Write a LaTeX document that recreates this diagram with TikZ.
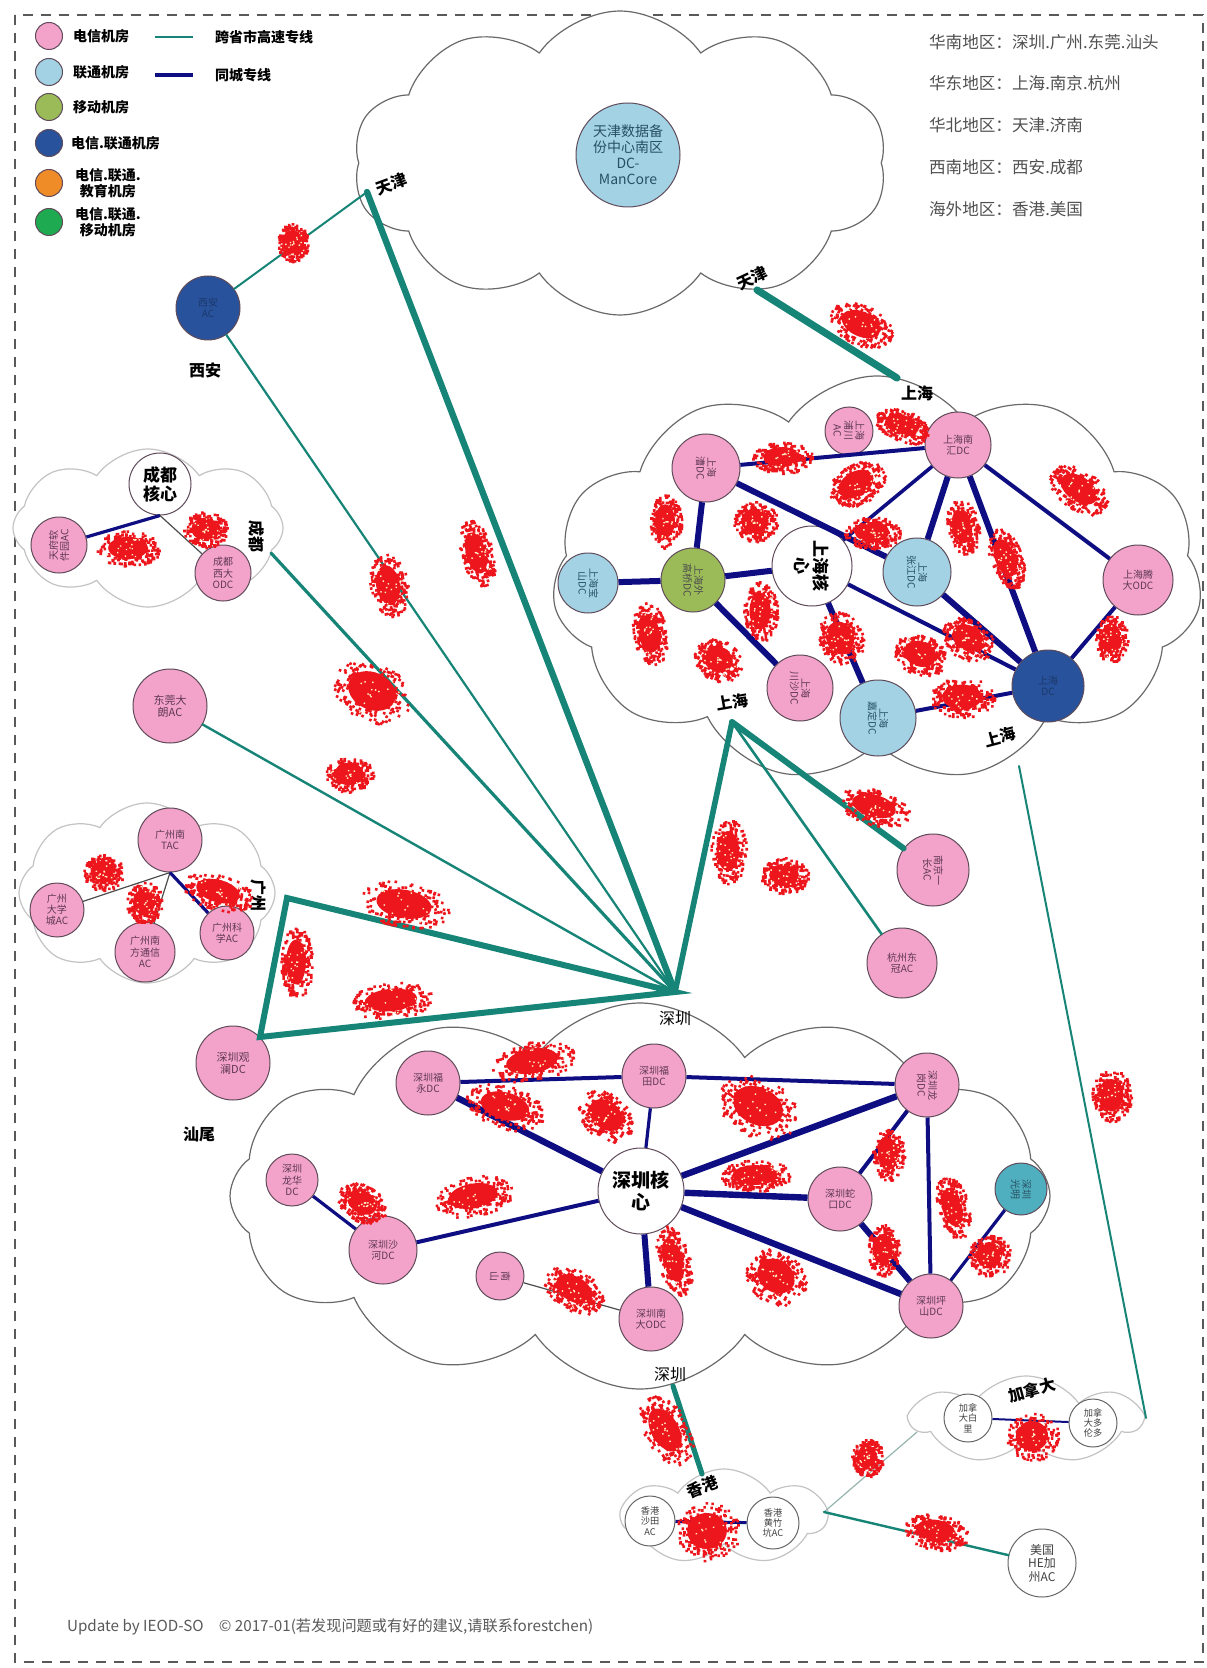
\documentclass[tikz,border=0pt]{standalone}
\usepackage{fontspec}
\setmainfont{Noto Sans CJK SC}
\usetikzlibrary{shapes.symbols}

\definecolor{pinkfill}{RGB}{243,163,201}
\definecolor{bluefill}{RGB}{162,210,228}
\definecolor{olivefill}{RGB}{155,187,89}
\definecolor{dualfill}{RGB}{40,82,155}
\definecolor{edufill}{RGB}{240,140,40}
\definecolor{greenfill}{RGB}{30,170,80}
\definecolor{tealnode}{RGB}{80,175,190}
\definecolor{roomedge}{RGB}{95,75,90}
\definecolor{roomtext}{RGB}{95,55,85}
\definecolor{bluetext}{RGB}{40,80,100}
\definecolor{tealline}{RGB}{22,132,118}
\definecolor{navyline}{RGB}{14,14,130}
\definecolor{clouddark}{RGB}{105,105,105}
\definecolor{cloudlight}{RGB}{195,195,195}
\definecolor{blobred}{RGB}{236,22,28}
\definecolor{blobspeck}{RGB}{255,240,200}
\definecolor{listgray}{RGB}{80,80,80}

% red scribble: x, y, half width, half height, angle
\newcommand\redblob[5]{%
  \begin{scope}[shift={(#1,#2)}, rotate=#5]
    \fill[blobred] (0,0) ellipse [x radius={0.62*#3}, y radius={0.62*#4}];
    \fill[blobred] \foreach \k [evaluate=\k as \blobr using {rnd^0.6},
        evaluate=\k as \blobt using {360*rnd}] in {1,...,230}
      { (\blobt:{#3*\blobr} and {#4*\blobr}) rectangle ++(2.6,2.6) };
    \fill[blobspeck] \foreach \k [evaluate=\k as \blobr using {0.8*rnd},
        evaluate=\k as \blobt using {360*rnd}] in {1,...,16}
      { (\blobt:{#3*\blobr} and {#4*\blobr}) rectangle ++(1.4,1.4) };
  \end{scope}}

\tikzset{
  room/.style={circle, draw=roomedge, line width=0.5pt, inner sep=0pt, align=center,
    font=\fontsize{5}{5.6}\selectfont, text=roomtext},
  telecom/.style={room, fill=pinkfill},
  unicom/.style={room, fill=bluefill, text=bluetext},
  mobile/.style={room, fill=olivefill, text=black!70},
  dual/.style={room, fill=dualfill, text=dualfill!70!black},
  tealroom/.style={room, fill=tealnode, text=bluetext},
  corenode/.style={room, fill=white, text=black, font=\bfseries\fontsize{8.5}{9.5}\selectfont},
  abroad/.style={room, fill=white, draw=black!60, text=black!75, font=\fontsize{4.6}{5.2}\selectfont},
  place/.style={font=\bfseries\fontsize{8}{8}\selectfont, text=black, inner sep=1pt},
  legendtext/.style={anchor=west, font=\bfseries\fontsize{7}{8}\selectfont, text=black, align=center},
  listtext/.style={anchor=west, font=\fontsize{8.3}{9}\selectfont, text=listgray},
  trunk/.style={draw=tealline, line width=#1, line cap=round},
  trunk/.default=1pt,
  cityline/.style={draw=navyline, line width=#1},
  cityline/.default=2pt,
  thinlink/.style={draw=black!70, line width=0.6pt},
  cloudbox/.style={cloud, cloud puffs=#1, cloud puff arc=110, cloud ignores aspect,
    draw=clouddark, line width=0.6pt, fill=white, inner sep=0pt},
  lightcloud/.style={cloudbox=#1, draw=cloudlight},
}

\begin{document}
\begin{tikzpicture}[x=0.5pt, y=-0.5pt]
\useasboundingbox (0,0) rectangle (1206,1668);
\fill[white] (0,0) rectangle (1206,1668);
\draw[black!65, line width=1pt, dash pattern=on 5pt off 4pt] (15,15) rectangle (1203,1662);

% ---------- clouds ----------
\node[cloudbox=10, minimum width=267pt, minimum height=152pt] (tjcloud) at (620,163) {};
\node[cloudbox=11, minimum width=325pt, minimum height=203pt] (shcloud) at (877,579) {};
\node[cloudbox=12, minimum width=410pt, minimum height=193pt] (szcloud) at (640,1196) {};
\node[lightcloud=8, minimum width=135pt, minimum height=79pt] (cdcloud) at (148,528) {};
\node[lightcloud=8, minimum width=128pt, minimum height=90pt] (gzcloud) at (147,893) {};
\node[lightcloud=7, minimum width=114pt, minimum height=44pt] (cacloud) at (1026,1420) {};
\node[lightcloud=7, minimum width=102pt, minimum height=48pt] (hkcloud) at (724,1517) {};

% ---------- legend ----------
\node[telecom, minimum size=13.5pt] (lg1) at (49,36) {};
\node[unicom, minimum size=13.5pt] (lg2) at (49,72) {};
\node[mobile, minimum size=13.5pt] (lg3) at (49,107) {};
\node[dual, minimum size=13.5pt] (lg4) at (49,143) {};
\node[room, fill=edufill, minimum size=13.5pt] (lg5) at (49,183) {};
\node[room, fill=greenfill, minimum size=13.5pt] (lg6) at (49,222) {};
\node[legendtext] (lt1) at (66,36) {电信机房};
\node[legendtext] (lt2) at (66,72) {联通机房};
\node[legendtext] (lt3) at (66,107) {移动机房};
\node[legendtext] (lt4) at (64,143) {电信.联通机房};
\node[legendtext] (lt5) at (68,183) {电信.联通.\\教育机房};
\node[legendtext] (lt6) at (68,222) {电信.联通.\\移动机房};
\coordinate (lgt1) at (155,37); \coordinate (lgt2) at (193,37);
\coordinate (lgn1) at (155,75); \coordinate (lgn2) at (193,75);
\draw[trunk=1.4pt, line cap=butt] (lgt1) -- (lgt2);
\draw[cityline=2pt] (lgn1) -- (lgn2);
\node[legendtext] (lt7) at (208,37) {跨省市高速专线};
\node[legendtext] (lt8) at (208,75) {同城专线};

% ---------- region list ----------
\node[listtext] (r1) at (922,42) {华南地区：深圳.广州.东莞.汕头};
\node[listtext] (r2) at (922,83) {华东地区：上海.南京.杭州};
\node[listtext] (r3) at (922,125) {华北地区：天津.济南};
\node[listtext] (r4) at (922,167) {西南地区：西安.成都};
\node[listtext] (r5) at (922,209) {海外地区：香港.美国};

% ---------- junction points ----------
\coordinate (tjL) at (367,192);
\coordinate (hub) at (675,992);
\coordinate (shB) at (732,722);
\coordinate (tjR) at (757,290);
\coordinate (shT) at (897,378);
\coordinate (gzP) at (287,898);
\coordinate (gzB) at (260,1037);
\coordinate (cdP) at (271,553);
\coordinate (szB) at (673,1386);
\coordinate (hkT) at (702,1474);
\coordinate (hkR) at (824,1512);
\coordinate (caL) at (917,1432);
\coordinate (shR) at (1019,766);
\coordinate (caR) at (1146,1418);

% ---------- rooms outside the clouds ----------
\node[dual, minimum size=32pt] (xa) at (208,308) {西安\\AC};
\node[telecom, minimum size=37pt, font=\fontsize{5.5}{6}\selectfont] (dg) at (170,706) {东莞大\\朗AC};
\node[telecom, minimum size=37pt, font=\fontsize{5.5}{6}\selectfont] (gl) at (233,1063) {深圳观\\澜DC};
\node[telecom, minimum size=36pt, rotate=-90] (nj) at (933,870) {南京一\\长AC};
\node[telecom, minimum size=35pt] (hz) at (902,963) {杭州东\\冠AC};
\node[abroad, minimum size=34pt, font=\fontsize{6}{6.8}\selectfont] (us) at (1042,1563) {美国\\HE加\\州AC};

% ---------- long-haul links ----------
\draw[trunk=3.2pt] (tjL) -- (hub);
\draw[trunk=1pt] (xa) -- (tjL);
\draw[trunk=1.1pt] (xa) -- (hub);
\draw[trunk=1.6pt] (cdP) -- (hub);
\draw[trunk=1.2pt] (dg) -- (hub);
\draw[trunk=3pt, line join=miter] (hub) -- (gzP) -- (gzB) -- cycle;
\draw[trunk=2.8pt] (hub) -- (shB);
\draw[trunk=3pt] (shB) -- (nj);
\draw[trunk=1.3pt] (shB) -- (hz);
\draw[trunk=3.6pt] (tjR) -- (shT);
\draw[trunk=2.6pt] (szB) -- (hkT);
\draw[draw=tealline!45!gray!60, line width=0.6pt] (hkR) -- (caL);
\draw[trunk=1.2pt] (hkR) -- (us);
\draw[trunk=1pt] (shR) -- (caR);

% ---------- Tianjin ----------
\node[unicom, minimum size=52pt, font=\fontsize{7}{8}\selectfont] (tjdc) at (628,155) {天津数据备\\份中心南区\\DC-\\ManCore};
\node[place, rotate=20] (tjlab1) at (391,184) {天津};
\node[place, rotate=25] (tjlab2) at (752,278) {天津};
\node[place] (xalab) at (205,370) {西安};

% ---------- Chengdu ----------
\node[corenode, minimum size=31pt] (cdcore) at (160,484) {成都\\核心};
\node[telecom, minimum size=28pt, rotate=90] (cdl) at (59,545) {天府软\\件园AC};
\node[telecom, minimum size=28pt] (cdr) at (223,573) {成都\\西大\\ODC};
\draw[cityline=1.6pt] (cdl) -- (cdcore.south);
\draw[thinlink] (cdcore.south) -- (cdr);
\node[place, rotate=-90] (cdlab) at (257,536) {成都};

% ---------- Guangzhou ----------
\node[telecom, minimum size=32pt] (gztac) at (170,840) {广州南\\TAC};
\node[telecom, minimum size=27pt] (gzl) at (57,910) {广州\\大学\\城AC};
\node[telecom, minimum size=30pt] (gzm) at (145,952) {广州南\\方通信\\AC};
\node[telecom, minimum size=27pt] (gzr) at (227,933) {广州科\\学AC};
\draw[thinlink] (gztac.south) -- (gzl);
\draw[thinlink] (gztac.south) -- (gzm);
\draw[cityline=1.6pt] (gztac.south) -- (gzr);
\node[place, rotate=-90] (gzlab) at (259,895) {广州};
\node[place] (swlab) at (199,1134) {汕尾};

% ---------- Shanghai ----------
\node[corenode, minimum size=40pt, rotate=-90] (shcore) at (812,566) {上海核\\心};
\node[mobile, minimum size=32pt, rotate=-90] (shol) at (693,580) {上海外\\高桥DC};
\node[unicom, minimum size=30pt, rotate=-90] (shbl) at (588,583) {上海宝\\山DC};
\node[telecom, minimum size=34pt, rotate=-90] (shcao) at (706,468) {上海\\漕DC};
\node[telecom, minimum size=24pt, rotate=-90] (shsm) at (849,431) {上海\\浦川\\AC};
\node[telecom, minimum size=33pt] (shnh) at (958,445) {上海南\\汇DC};
\node[unicom, minimum size=34pt, rotate=-90] (shzj) at (917,572) {上海\\张江DC};
\node[telecom, minimum size=35pt] (shrt) at (1138,580) {上海腾\\大ODC};
\node[dual, minimum size=36pt] (shdb) at (1048,686) {上海\\DC};
\node[unicom, minimum size=38pt, rotate=-90] (shlb) at (878,718) {上海\\嘉定DC};
\node[telecom, minimum size=33pt, rotate=-90] (shpk) at (800,688) {上海\\川沙DC};
\draw[cityline=3pt] (shcao) -- (shol);
\draw[cityline=3pt] (shol) -- (shbl);
\draw[cityline=3pt] (shol) -- (shcore);
\draw[cityline=3pt] (shol) -- (shpk);
\draw[cityline=2pt] (shcao) -- (shnh);
\draw[cityline=3pt] (shcao) -- (shzj);
\draw[cityline=1.8pt] (shnh) -- (shcore);
\draw[cityline=3pt] (shnh) -- (shzj);
\draw[cityline=3pt] (shnh) -- (shdb);
\draw[cityline=2pt] (shnh) -- (shrt);
\draw[cityline=2pt] (shrt) -- (shdb);
\draw[cityline=3pt] (shzj) -- (shdb);
\draw[cityline=2pt] (shcore) -- (shdb);
\draw[cityline=3pt] (shcore) -- (shlb);
\draw[cityline=2pt] (shlb) -- (shdb);
\node[place] (shlab1) at (917,393) {上海};
\node[place, rotate=10] (shlab2) at (732,702) {上海};
\node[place, rotate=15] (shlab3) at (1000,737) {上海};

% ---------- Shenzhen ----------
\node[corenode, minimum size=43pt, font=\bfseries\fontsize{9.5}{11}\selectfont] (szcore) at (641,1191) {深圳核\\心};
\node[telecom, minimum size=32pt] (szfy) at (428,1083) {深圳福\\永DC};
\node[telecom, minimum size=32pt] (szft) at (654,1076) {深圳福\\田DC};
\node[telecom, minimum size=32pt, rotate=-90] (szlg) at (927,1085) {深圳龙\\岗DC};
\node[telecom, minimum size=32pt] (szsk) at (840,1199) {深圳蛇\\口DC};
\node[tealroom, minimum size=26pt, rotate=-90] (szgm) at (1021,1189) {深圳\\光明};
\node[telecom, minimum size=32pt] (szps) at (931,1306) {深圳坪\\山DC};
\node[telecom, minimum size=32pt] (sznd) at (651,1319) {深圳南\\大ODC};
\node[telecom, minimum size=24pt, rotate=-90] (szns) at (500,1276) {南\\山};
\node[telecom, minimum size=34pt] (szsh) at (383,1250) {深圳沙\\河DC};
\node[telecom, minimum size=26pt] (szlh) at (292,1180) {深圳\\龙华\\DC};
\draw[cityline=2pt] (szfy) -- (szft);
\draw[cityline=3.2pt] (szfy) -- (szcore);
\draw[cityline=1.6pt] (szft) -- (szcore);
\draw[cityline=2pt] (szft) -- (szlg);
\draw[cityline=3.2pt] (szcore) -- (szlg);
\draw[cityline=3.2pt] (szcore) -- (szsk);
\draw[cityline=3.2pt] (szcore) -- (szps);
\draw[cityline=2pt] (szlg) -- (szps);
\draw[cityline=2pt] (szsk) -- (szlg);
\draw[cityline=3pt] (szsk) -- (szps);
\draw[cityline=1.6pt] (szgm) -- (szps);
\draw[cityline=3pt] (szcore) -- (sznd);
\draw[cityline=2pt] (szcore) -- (szsh);
\draw[cityline=1.6pt] (szsh) -- (szlh);
\draw[thinlink] (szns) -- (sznd);
\node[place, font=\fontsize{8}{8}\selectfont] (szlab1) at (675,1018) {深圳};
\node[place, font=\fontsize{8}{8}\selectfont] (szlab2) at (670,1374) {深圳};

% ---------- Hong Kong and Canada ----------
\node[abroad, minimum size=25pt] (hkl) at (650,1521) {香港\\沙田\\AC};
\node[abroad, minimum size=26pt] (hkr) at (773,1523) {香港\\黄竹\\坑AC};
\draw[cityline=1.5pt] (hkl) -- (hkr);
\node[place, rotate=20] (hklab) at (702,1487) {香港};
\node[abroad, minimum size=24pt] (cal) at (968,1418) {加拿\\大白\\里};
\node[abroad, minimum size=24pt] (car) at (1093,1423) {加拿\\大多\\伦多};
\draw[cityline=1pt] (cal) -- (car);
\node[place, rotate=15] (calab) at (1032,1390) {加拿大};

% ---------- footer ----------
\node[anchor=west, font=\fontsize{7.6}{8.5}\selectfont, text=black!65] (foot) at (60,1627)
  {Update by IEOD-SO\quad © 2017-01(若发现问题或有好的建议,请联系forestchen)};

% ---------- red scribbles ----------
\pgfmathsetseed{17}
\redblob{292}{242}{16}{19}{0}
\redblob{861}{324}{33}{20}{-25}
\redblob{902}{425}{28}{16}{-20}
\redblob{782}{457}{30}{16}{0}
\redblob{856}{484}{30}{20}{30}
\redblob{1079}{489}{33}{20}{-35}
\redblob{665}{521}{16}{27}{0}
\redblob{755}{521}{22}{20}{0}
\redblob{872}{532}{28}{16}{0}
\redblob{962}{526}{16}{28}{10}
\redblob{1005}{558}{16}{32}{20}
\redblob{649}{633}{17}{32}{10}
\redblob{760}{611}{17}{30}{0}
\redblob{718}{659}{25}{20}{-30}
\redblob{840}{638}{22}{27}{20}
\redblob{920}{654}{27}{20}{-20}
\redblob{968}{638}{27}{20}{-30}
\redblob{962}{697}{32}{20}{0}
\redblob{1111}{638}{16}{24}{0}
\redblob{128}{548}{32}{18}{0}
\redblob{205}{529}{22}{18}{0}
\redblob{476}{553}{16}{34}{15}
\redblob{388}{585}{19}{32}{10}
\redblob{372}{691}{40}{30}{-25}
\redblob{349}{774}{24}{18}{0}
\redblob{874}{806}{36}{18}{-15}
\redblob{728}{851}{18}{32}{0}
\redblob{784}{875}{24}{18}{0}
\redblob{103}{872}{20}{18}{0}
\redblob{144}{902}{18}{21}{0}
\redblob{218}{891}{36}{18}{-15}
\redblob{404}{904}{45}{23}{-10}
\redblob{296}{962}{16}{36}{0}
\redblob{391}{1000}{42}{18}{5}
\redblob{532}{1061}{42}{20}{10}
\redblob{505}{1106}{40}{22}{-15}
\redblob{606}{1115}{30}{22}{-40}
\redblob{758}{1106}{42}{30}{-25}
\redblob{755}{1175}{36}{16}{0}
\redblob{888}{1154}{16}{26}{0}
\redblob{362}{1202}{26}{18}{-30}
\redblob{473}{1196}{40}{20}{10}
\redblob{673}{1260}{16}{36}{15}
\redblob{776}{1276}{32}{26}{-35}
\redblob{883}{1250}{16}{26}{0}
\redblob{952}{1207}{16}{32}{15}
\redblob{989}{1255}{21}{21}{0}
\redblob{574}{1289}{32}{20}{-30}
\redblob{1111}{1095}{20}{26}{0}
\redblob{665}{1430}{22}{38}{30}
\redblob{867}{1457}{16}{19}{0}
\redblob{1032}{1436}{26}{24}{0}
\redblob{707}{1531}{32}{29}{0}
\redblob{936}{1531}{32}{18}{-10}
\end{tikzpicture}
\end{document}
